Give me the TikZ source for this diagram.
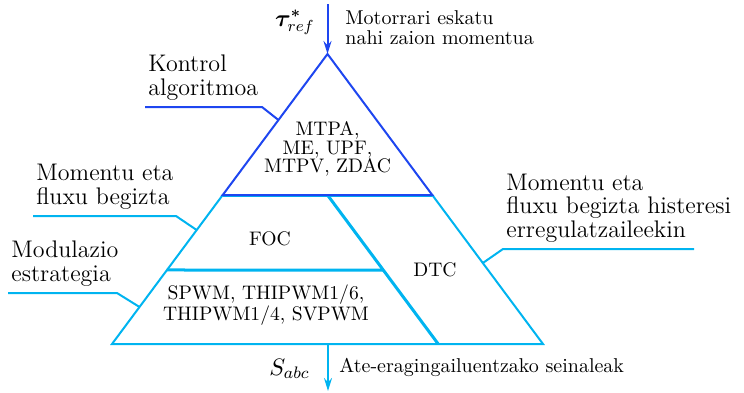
\documentclass[tikz,border=0pt]{standalone}
\usepackage{fix-cm}
\usepackage{fontspec}
\usepackage{bm}
\usetikzlibrary{arrows.meta, calc}
\definecolor{ctrlblue}{HTML}{1E46F0}
\definecolor{loopblue}{HTML}{00B4F0}

\begin{document}
\begin{tikzpicture}[x=0.5pt, y=-0.5pt,
    rim/.style={line width=1pt, color=#1, line join=miter},
    leader/.style={line width=1pt, color=#1},
    sigarrow/.style={-{Stealth[length=6.5pt, width=4pt]}, line width=1pt, color=#1},
    tag/.style={anchor=south west, align=left, inner xsep=1.5pt, inner ysep=3.2pt, font=\fontsize{12}{11.8}\selectfont},
    block/.style={align=center, inner sep=0pt, font=\fontsize{9.8}{9.1}\selectfont},
    note/.style={align=left, inner sep=0pt, font=\fontsize{10}{10}\selectfont}
]
\useasboundingbox (0,0) rectangle (744,392);

% pyramid corners and inner split points
\coordinate (apex) at (327.5,54);
\coordinate (bl) at (112,344);
\coordinate (br) at (543,344);
\coordinate (tl) at ($(apex)!0.4862!(bl)$);
\coordinate (tr) at ($(apex)!0.4862!(br)$);
\coordinate (tm) at (327.5,195);
\coordinate (bm) at ($(tm)+(br)-(tr)$);
\coordinate (ml) at ($(apex)!0.7448!(bl)$);
\coordinate (mr) at ($(tm)!0.5034!(bm)$);

\draw[rim=loopblue] (tl) -- (bl) -- (br) -- (tr);
\draw[rim=loopblue, line width=1.5pt] (tm) -- (bm);
\draw[rim=loopblue, line width=1.5pt] (ml) -- (mr);
\draw[rim=loopblue, line width=1.5pt] (tl) -- (tr);
\draw[rim=ctrlblue, yshift=0.4pt] (tl) -- (apex) -- (tr) -- cycle;

\node[block] (alg) at (327.5,149) {MTPA,\\ME, UPF,\\MTPV, ZDAC};
\node[block] (foc) at (270,239) {FOC};
\node[block] (dtc) at (435,270) {DTC};
\node[block, font=\fontsize{9.8}{8.2}\selectfont] (pwm) at (266,305) {SPWM, THIPWM1/6,\\THIPWM1/4, SVPWM};

% side labels with their leaders
\node[tag] (kontrol) at (145,107) {Kontrol\\algoritmoa};
\coordinate (kontrolR) at (262,107);
\coordinate (kontrolT) at ($(apex)!0.2276!(bl)$);
\draw[leader=ctrlblue] (kontrol.south west) -- (kontrolR) -- (kontrolT);

\node[tag] (loop) at (33,216) {Momentu eta\\fluxu begizta};
\coordinate (loopR) at (176,216);
\coordinate (loopT) at ($(apex)!0.607!(bl)$);
\draw[leader=loopblue] (loop.south west) -- (loopR) -- (loopT);

\node[tag] (modul) at (8,293) {Modulazio\\estrategia};
\coordinate (modulR) at (117,293);
\coordinate (modulT) at ($(apex)!0.8724!(bl)$);
\draw[leader=loopblue] (modul.south west) -- (modulR) -- (modulT);

\node[tag] (hist) at (503,249) {Momentu eta\\fluxu begizta histeresi\\erregulatzaileekin};
\coordinate (histR) at (694,249);
\coordinate (histT) at ($(apex)!0.7207!(br)$);
\draw[leader=loopblue] (histR) -- (hist.south west) -- (histT);

% input and output signals
\coordinate (cmd) at (327.5,4);
\draw[sigarrow=ctrlblue] (cmd) -- (apex);
\node[anchor=base east, inner sep=0pt, font=\fontsize{12}{12}\selectfont] (tau) at (315,26) {$\bm{\tau}^{\bm{*}}_{ref}$};
\node[note, anchor=west] (tautxt) at (345,28) {Motorrari eskatu\\nahi zaion momentua};

\coordinate (gates) at (328,344);
\coordinate (gatesEnd) at (328,391);
\draw[sigarrow=loopblue] (gates) -- (gatesEnd);
\node[anchor=base east, inner sep=0pt, font=\fontsize{11.9}{12}\selectfont] (sabc) at (310,375) {$S_{abc}$};
\node[note, anchor=base west] (sabctxt) at (339,372) {Ate-eragingailuentzako seinaleak};
\end{tikzpicture}
\end{document}
